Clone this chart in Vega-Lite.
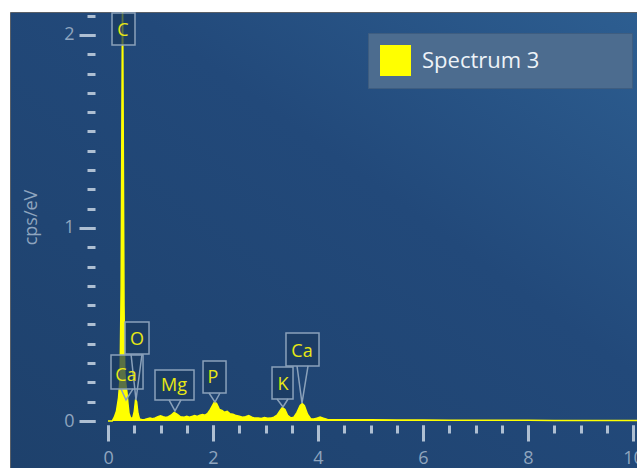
{
  "$schema": "https://vega.github.io/schema/vega-lite/v6.json",
  "width": 627,
  "height": 456,
  "autosize": "none",
  "padding": {"left": 10, "top": 12, "right": 0, "bottom": 0},
  "background": "#ffffff",
  "config": {
    "view": {
      "fill": {"gradient": "linear", "x1": 0, "y1": 1, "x2": 1, "y2": 0, "stops": [{"offset": 0, "color": "#1e416c"}, {"offset": 0.6, "color": "#22497a"}, {"offset": 1, "color": "#2d5e91"}]},
      "stroke": "#5a6068",
      "strokeWidth": 1
    },
    "font": "Open Sans",
    "axis": {"grid": false, "domain": false, "labelFont": "Open Sans", "titleFont": "Open Sans"}
  },
  "datasets": {
    "spec": [
      {"E": 0.0, "v": 0}, {"E": 0.08, "v": 0}, {"E": 0.12, "v": 0.02}, {"E": 0.16, "v": 0.05},
      {"E": 0.2, "v": 0.12}, {"E": 0.23, "v": 0.22}, {"E": 0.25, "v": 0.7}, {"E": 0.265, "v": 1.6},
      {"E": 0.277, "v": 2.25}, {"E": 0.29, "v": 1.5}, {"E": 0.305, "v": 0.6}, {"E": 0.32, "v": 0.25},
      {"E": 0.34, "v": 0.19}, {"E": 0.36, "v": 0.15}, {"E": 0.38, "v": 0.09}, {"E": 0.4, "v": 0.04},
      {"E": 0.43, "v": 0.015}, {"E": 0.47, "v": 0.015}, {"E": 0.5, "v": 0.05}, {"E": 0.525, "v": 0.11},
      {"E": 0.545, "v": 0.1}, {"E": 0.57, "v": 0.04}, {"E": 0.6, "v": 0.01}, {"E": 0.65, "v": 0.006},
      {"E": 0.7, "v": 0.008}, {"E": 0.75, "v": 0.012}, {"E": 0.8, "v": 0.015}, {"E": 0.85, "v": 0.012},
      {"E": 0.9, "v": 0.016}, {"E": 0.95, "v": 0.022}, {"E": 1.0, "v": 0.027}, {"E": 1.05, "v": 0.022},
      {"E": 1.1, "v": 0.018}, {"E": 1.15, "v": 0.022}, {"E": 1.2, "v": 0.03}, {"E": 1.26, "v": 0.045},
      {"E": 1.32, "v": 0.035}, {"E": 1.38, "v": 0.022}, {"E": 1.45, "v": 0.02}, {"E": 1.5, "v": 0.024},
      {"E": 1.55, "v": 0.02}, {"E": 1.6, "v": 0.024}, {"E": 1.65, "v": 0.028}, {"E": 1.7, "v": 0.024},
      {"E": 1.75, "v": 0.03}, {"E": 1.8, "v": 0.033}, {"E": 1.85, "v": 0.03}, {"E": 1.9, "v": 0.04},
      {"E": 1.95, "v": 0.06}, {"E": 2.0, "v": 0.085}, {"E": 2.03, "v": 0.1}, {"E": 2.07, "v": 0.09},
      {"E": 2.12, "v": 0.06}, {"E": 2.17, "v": 0.055}, {"E": 2.22, "v": 0.045}, {"E": 2.27, "v": 0.05},
      {"E": 2.32, "v": 0.038}, {"E": 2.38, "v": 0.035}, {"E": 2.44, "v": 0.028}, {"E": 2.5, "v": 0.025},
      {"E": 2.56, "v": 0.02}, {"E": 2.62, "v": 0.022}, {"E": 2.68, "v": 0.028}, {"E": 2.74, "v": 0.02},
      {"E": 2.8, "v": 0.015}, {"E": 2.86, "v": 0.016}, {"E": 2.92, "v": 0.013}, {"E": 2.98, "v": 0.018},
      {"E": 3.04, "v": 0.014}, {"E": 3.1, "v": 0.015}, {"E": 3.16, "v": 0.02}, {"E": 3.22, "v": 0.03},
      {"E": 3.28, "v": 0.055}, {"E": 3.32, "v": 0.07}, {"E": 3.37, "v": 0.06}, {"E": 3.42, "v": 0.03},
      {"E": 3.48, "v": 0.016}, {"E": 3.54, "v": 0.02}, {"E": 3.6, "v": 0.045}, {"E": 3.66, "v": 0.08},
      {"E": 3.7, "v": 0.09}, {"E": 3.74, "v": 0.08}, {"E": 3.8, "v": 0.035}, {"E": 3.86, "v": 0.012},
      {"E": 3.92, "v": 0.01}, {"E": 3.98, "v": 0.015}, {"E": 4.04, "v": 0.02}, {"E": 4.1, "v": 0.015},
      {"E": 4.18, "v": 0.008}, {"E": 4.3, "v": 0.006}, {"E": 4.6, "v": 0.006}, {"E": 5.0, "v": 0.006},
      {"E": 5.5, "v": 0.005}, {"E": 6.0, "v": 0.005}, {"E": 6.5, "v": 0.004}, {"E": 7.0, "v": 0.004},
      {"E": 7.5, "v": 0.004}, {"E": 8.0, "v": 0.004}, {"E": 8.5, "v": 0.003}, {"E": 9.0, "v": 0.003},
      {"E": 9.5, "v": 0.003}, {"E": 10.0, "v": 0.003}, {"E": 10.1, "v": 0.003}
    ],
    "labels": [
      {"el": "C", "tx": 0.286, "ty": 2.018, "x0": 0.076, "x1": 0.514, "y0": 1.948, "y1": 2.114},
      {"el": "O", "tx": 0.552, "ty": 0.42, "x0": 0.324, "x1": 0.781, "y0": 0.347, "y1": 0.513},
      {"el": "Ca", "tx": 0.343, "ty": 0.233, "x0": 0.057, "x1": 0.667, "y0": 0.166, "y1": 0.342},
      {"el": "Mg", "tx": 1.257, "ty": 0.181, "x0": 0.895, "x1": 1.638, "y0": 0.109, "y1": 0.264},
      {"el": "P", "tx": 2.0, "ty": 0.223, "x0": 1.81, "x1": 2.248, "y0": 0.145, "y1": 0.311},
      {"el": "K", "tx": 3.333, "ty": 0.187, "x0": 3.124, "x1": 3.524, "y0": 0.114, "y1": 0.28},
      {"el": "Ca", "tx": 3.695, "ty": 0.358, "x0": 3.39, "x1": 4.019, "y0": 0.285, "y1": 0.456}
    ],
    "ptr": [
      {"id": "O", "o": 1, "E": 0.438, "v": 0.347}, {"id": "O", "o": 2, "E": 0.533, "v": 0.109}, {"id": "O", "o": 3, "E": 0.648, "v": 0.347},
      {"id": "CaL", "o": 1, "E": 0.248, "v": 0.166}, {"id": "CaL", "o": 2, "E": 0.343, "v": 0.109}, {"id": "CaL", "o": 3, "E": 0.476, "v": 0.166},
      {"id": "Mg", "o": 1, "E": 1.162, "v": 0.109}, {"id": "Mg", "o": 2, "E": 1.276, "v": 0.052}, {"id": "Mg", "o": 3, "E": 1.39, "v": 0.109},
      {"id": "P", "o": 1, "E": 1.924, "v": 0.145}, {"id": "P", "o": 2, "E": 2.038, "v": 0.098}, {"id": "P", "o": 3, "E": 2.133, "v": 0.145},
      {"id": "K", "o": 1, "E": 3.219, "v": 0.114}, {"id": "K", "o": 2, "E": 3.333, "v": 0.073}, {"id": "K", "o": 3, "E": 3.429, "v": 0.114},
      {"id": "CaR", "o": 1, "E": 3.6, "v": 0.285}, {"id": "CaR", "o": 2, "E": 3.695, "v": 0.093}, {"id": "CaR", "o": 3, "E": 3.81, "v": 0.285}
    ]
  },
  "resolve": {"axis": {"x": "independent", "y": "independent"}},
  "layer": [
    {
      "data": {"name": "spec"},
      "mark": {"type": "area", "interpolate": "linear", "clip": true, "opacity": 1, "line": {"strokeWidth": 1.5}},
      "encoding": {
        "x": {"field": "E", "type": "quantitative",
              "scale": {"domain": [-1.867, 10.076], "nice": false, "zero": false},
              "axis": {"orient": "bottom", "offset": -43, "values": [0, 2, 4, 6, 8, 10], "tickSize": 16, "tickWidth": 3, "tickColor": "#aebfd2", "labelColor": "#8fa5bf", "labelFontSize": 18, "labelPadding": 8, "labelFlush": false, "labelOverlap": false, "title": null, "format": "d"}},
        "y": {"field": "v", "type": "quantitative",
              "scale": {"domain": [-0.2435, 2.119], "nice": false, "zero": false},
              "axis": {"orient": "left", "offset": -85, "values": [0, 1, 2], "tickSize": 16, "tickWidth": 3, "tickColor": "#aebfd2", "labelColor": "#8fa5bf", "labelFontSize": 18, "labelPadding": 5, "labelFlush": false, "labelOverlap": false, "format": "d",
                       "title": "cps/eV", "titleColor": "#8fa5bf", "titleFontSize": 18, "titleFontWeight": "normal", "titleX": -59, "titleY": 205, "titleBaseline": "alphabetic", "titleAngle": -90, "titleAlign": "center"}},
        "color": {"datum": "Spectrum 3", "type": "nominal",
                  "scale": {"range": ["#ffff00"]},
                  "legend": {"orient": "none", "legendX": 358, "legendY": 21, "title": null,
                             "fillColor": "#4c6c8f", "strokeColor": "#3e5d80", "padding": 12,
                             "symbolType": "square", "symbolSize": 961, "symbolStrokeWidth": 0, "symbolFillColor": "#ffff00", "symbolOpacity": 1,
                             "labelFontSize": 22, "labelColor": "#eef3f8", "labelFont": "Open Sans", "labelOffset": 11, "labelLimit": 400,
                             "labelExpr": "pad(datum.label, 15, '\u2800')"}}
      }
    },
    {
      "data": {"name": "labels"},
      "mark": {"type": "rect", "fill": "#1a3a60", "fillOpacity": 0.72, "stroke": "#8aa1ba", "strokeWidth": 1.5, "clip": true},
      "encoding": {
        "x": {"field": "x0", "type": "quantitative",
              "scale": {"domain": [-1.867, 10.076], "nice": false, "zero": false},
              "axis": {"orient": "bottom", "offset": -43, "values": [0, 0.5, 1, 1.5, 2, 2.5, 3, 3.5, 4, 4.5, 5, 5.5, 6, 6.5, 7, 7.5, 8, 8.5, 9, 9.5, 10], "tickSize": 8, "tickWidth": 3, "tickColor": "#aebfd2", "labels": false, "title": null}},
        "x2": {"field": "x1"},
        "y": {"field": "y0", "type": "quantitative",
              "scale": {"domain": [-0.2435, 2.119], "nice": false, "zero": false},
              "axis": {"orient": "left", "offset": -85, "values": [0, 0.1, 0.2, 0.3, 0.4, 0.5, 0.6, 0.7, 0.8, 0.9, 1, 1.1, 1.2, 1.3, 1.4, 1.5, 1.6, 1.7, 1.8, 1.9, 2, 2.1], "tickSize": 8, "tickWidth": 3, "tickColor": "#aebfd2", "labels": false, "title": null}},
        "y2": {"field": "y1"}
      }
    },
    {
      "data": {"name": "ptr"},
      "mark": {"type": "line", "stroke": "#8aa1ba", "strokeWidth": 1.5},
      "encoding": {
        "x": {"field": "E", "type": "quantitative", "scale": {"domain": [-1.867, 10.076], "nice": false, "zero": false}, "axis": null},
        "y": {"field": "v", "type": "quantitative", "scale": {"domain": [-0.2435, 2.119], "nice": false, "zero": false}, "axis": null},
        "detail": {"field": "id"},
        "order": {"field": "o"}
      }
    },
    {
      "data": {"name": "labels"},
      "mark": {"type": "text", "color": "#e8e814", "fontSize": 18, "font": "Open Sans", "align": "center", "baseline": "middle"},
      "encoding": {
        "x": {"field": "tx", "type": "quantitative", "scale": {"domain": [-1.867, 10.076], "nice": false, "zero": false}, "axis": null},
        "y": {"field": "ty", "type": "quantitative", "scale": {"domain": [-0.2435, 2.119], "nice": false, "zero": false}, "axis": null},
        "text": {"field": "el"}
      }
    }
  ]
}
